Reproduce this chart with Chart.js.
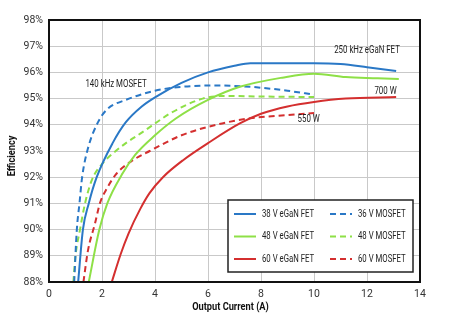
<!DOCTYPE html>
<html>
<head>
<meta charset="utf-8">
<script src="https://cdn.jsdelivr.net/npm/chart.js@4.4.0/dist/chart.umd.min.js"></script>
<style>
  html, body { margin: 0; padding: 0; background: #fff; }
  #wrap { width: 450px; height: 318px; }
</style>
</head>
<body>
<div id="wrap"><canvas id="myChart" width="450" height="318"></canvas></div>
<script>
// data: output current (A) and efficiency (%)
var egan38X = [1.1, 1.28, 1.5, 1.8, 2.4, 2.9, 3.5, 4, 5, 6, 7, 7.6, 9, 10, 11, 12, 13.1];
var egan38Y = [88, 90, 91, 92, 93.3, 94.1, 94.7, 95.05, 95.6, 96.0, 96.25, 96.35, 96.35, 96.35, 96.32, 96.2, 96.05];

var egan48X = [1.5, 1.9, 2.2, 2.75, 3.25, 4, 4.8, 6, 7.2, 8.8, 10, 11.2, 12.4, 13.2];
var egan48Y = [88, 90, 91, 92.1, 92.85, 93.6, 94.25, 94.95, 95.45, 95.8, 95.95, 95.82, 95.78, 95.75];

var egan60X = [2.37, 2.7, 3.0, 3.45, 3.8, 4.3, 5.06, 6, 7.2, 8, 9, 10, 11.2, 13.1];
var egan60Y = [88, 89.05, 89.85, 90.8, 91.4, 92.0, 92.65, 93.3, 94.05, 94.42, 94.7, 94.87, 95.0, 95.06];

var mos36X = [0.95, 1.05, 1.15, 1.25, 1.47, 1.85, 2.2, 2.9, 4, 5, 6.3, 7.6, 9, 10];
var mos36Y = [88, 90, 91, 92, 93.1, 94.1, 94.6, 94.95, 95.3, 95.45, 95.5, 95.45, 95.3, 95.15];

var mos48X = [0.92, 1.0, 1.17, 1.36, 1.62, 2.0, 2.4, 2.9, 3.5, 4, 4.6, 5.8, 6.6, 8, 10];
var mos48Y = [88, 89, 90, 91, 91.9, 92.5, 92.9, 93.3, 93.7, 94.05, 94.45, 95.0, 95.1, 95.08, 95.06];

var mos60X = [1.3, 1.47, 1.74, 1.92, 2.2, 2.56, 3.17, 3.8, 5, 6.3, 7.6, 9, 10];
var mos60Y = [88, 89.2, 90.25, 91, 91.6, 92.15, 92.65, 93.0, 93.6, 94.0, 94.25, 94.37, 94.45];

var xTicks = [0, 2, 4, 6, 8, 10, 12, 14];
var yTicks = [88, 89, 90, 91, 92, 93, 94, 95, 96, 97, 98];

// text notes placed at data coordinates
var notes = [
  { text: '250 kHz eGaN FET', x: 12.0, y: 96.85 },
  { text: '140 kHz MOSFET', x: 2.53, y: 95.56 },
  { text: '700 W', x: 12.7, y: 95.29 },
  { text: '550 W', x: 9.8, y: 94.22 }
];

var FONT = 'Roboto, "Liberation Sans", sans-serif';
var BLUE = '#2a78c6';
var GREEN = '#8ee047';
var RED = '#d42f2f';

function pts(xs, ys) {
  var out = [];
  xs.forEach(function (v, i) { out.push({ x: v, y: ys[i] }); });
  return out;
}

function series(label, xs, ys, color, dashed) {
  return {
    label: label,
    data: pts(xs, ys),
    borderColor: color,
    backgroundColor: color,
    borderWidth: 2,
    borderDash: dashed ? [6, 4] : [],
    pointRadius: 0,
    cubicInterpolationMode: 'monotone',
    fill: false
  };
}

// the original uses a condensed face, so squeeze text round its anchor
function narrowText(ctx, text, x, y, sx, rot) {
  ctx.save();
  ctx.translate(x, y);
  if (rot) ctx.rotate(rot);
  ctx.scale(sx, 1);
  ctx.fillText(text, 0, 0);
  ctx.restore();
}

// frame round the plot, notes, axis titles and the boxed legend
var extras = {
  id: 'extras',
  afterDatasetsDraw: function (chart) {
    var ctx = chart.ctx;
    var a = chart.chartArea;
    var xs = chart.scales.x, ys = chart.scales.y;
    ctx.save();

    ctx.fillStyle = '#222';
    ctx.font = '10.5px ' + FONT;
    ctx.textAlign = 'center';
    ctx.textBaseline = 'middle';
    notes.forEach(function (n) {
      narrowText(ctx, n.text, xs.getPixelForValue(n.x), ys.getPixelForValue(n.y), 0.75);
    });

    // axis titles
    ctx.fillStyle = '#111';
    ctx.font = 'bold 11px ' + FONT;
    narrowText(ctx, 'Output Current (A)', (a.left + a.right) / 2 - 4, 307, 0.84);
    narrowText(ctx, 'Efficiency', 12, (a.top + a.bottom) / 2 + 5, 0.84, -Math.PI / 2);

    // legend box
    var bx = a.right - 192, by = a.bottom - 82, bw = 185, bh = 72;
    ctx.fillStyle = '#fff';
    ctx.fillRect(bx, by, bw, bh);
    ctx.strokeStyle = '#222';
    ctx.lineWidth = 1.5;
    ctx.strokeRect(bx, by, bw, bh);
    ctx.textAlign = 'left';
    ctx.font = '10.5px ' + FONT;
    chart.data.datasets.forEach(function (ds, i) {
      var col = i < 3 ? 0 : 1;
      var row = i % 3;
      var lx = bx + 6 + col * 96;
      var ly = by + 14 + row * 22.5;
      ctx.strokeStyle = ds.borderColor;
      ctx.lineWidth = 2;
      ctx.setLineDash(ds.borderDash);
      ctx.beginPath();
      ctx.moveTo(lx, ly);
      ctx.lineTo(lx + 22, ly);
      ctx.stroke();
      ctx.setLineDash([]);
      ctx.fillStyle = '#222';
      narrowText(ctx, ds.label, lx + 28, ly, 0.74);
    });

    ctx.strokeStyle = '#111';
    ctx.lineWidth = 2;
    ctx.strokeRect(a.left, a.top, a.right - a.left, a.bottom - a.top);
    ctx.restore();
  }
};

var ctx = document.getElementById('myChart').getContext('2d');
var myChart = new Chart(ctx, {
  type: 'line',
  data: {
    datasets: [
      series('38 V eGaN FET', egan38X, egan38Y, BLUE, false),
      series('48 V eGaN FET', egan48X, egan48Y, GREEN, false),
      series('60 V eGaN FET', egan60X, egan60Y, RED, false),
      series('36 V MOSFET', mos36X, mos36Y, BLUE, true),
      series('48 V MOSFET', mos48X, mos48Y, GREEN, true),
      series('60 V MOSFET', mos60X, mos60Y, RED, true)
    ]
  },
  plugins: [extras],
  options: {
    responsive: false,
    animation: false,
    layout: { padding: { top: 20, right: 30, left: 0, bottom: 0 } },
    plugins: {
      legend: { display: false },
      tooltip: { enabled: false }
    },
    scales: {
      x: {
        type: 'linear',
        min: xTicks[0],
        max: xTicks[xTicks.length - 1],
        afterFit: function (s) { s.height = 36; },
        afterBuildTicks: function (s) { s.ticks = xTicks.map(function (v) { return { value: v }; }); },
        grid: { color: '#c9c9c9', drawTicks: false },
        border: { display: false },
        ticks: { color: '#333', font: { family: FONT, size: 10.5 }, padding: 6 }
      },
      y: {
        min: yTicks[0],
        max: yTicks[yTicks.length - 1],
        afterFit: function (s) { s.width = 49; },
        afterBuildTicks: function (s) { s.ticks = yTicks.map(function (v) { return { value: v }; }); },
        grid: { color: '#c9c9c9', drawTicks: false },
        border: { display: false },
        ticks: {
          color: '#333',
          font: { family: FONT, size: 10.5 },
          padding: 6,
          callback: function (v) { return v + '%'; }
        }
      }
    }
  }
});
</script>
</body>
</html>
